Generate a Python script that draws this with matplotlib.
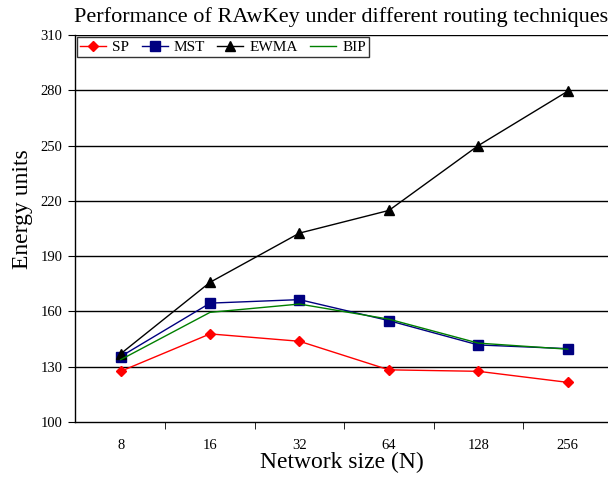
import matplotlib
matplotlib.use("Agg")
import matplotlib.pyplot as plt
import numpy as np

plt.rcParams['font.family'] = ['Liberation Serif', 'DejaVu Serif']

categories = ["8", "16", "32", "64", "128", "256"]
sp = [127.5, 147.8, 143.8, 128.3, 127.5, 121.5]
mst = [135.5, 164.5, 166.4, 155.0, 141.8, 139.8]
ewma = [137.0, 175.8, 202.5, 214.8, 250.0, 279.5]
bip = [133.8, 159.5, 164.0, 155.8, 142.8, 139.5]
yticks = [100, 130, 160, 190, 220, 250, 280, 310]

fig = plt.figure(figsize=(6.08, 4.82), dpi=100)
ax = fig.add_axes([0.1234, 0.1245, 0.8766, 0.8029])
x = np.arange(len(categories))

ax.plot(x, sp, color='#ff0000', marker='D', markersize=5.5, lw=1, label='SP')
ax.plot(x, mst, color='#000080', marker='s', markersize=7, lw=1, label='MST')
ax.plot(x, ewma, color='black', marker='^', markersize=7, lw=1, label='EWMA')
ax.plot(x, bip, color='#008000', lw=1, label='BIP')

ax.set_yticks(yticks)
ax.set_yticklabels([str(v) for v in yticks], fontsize=10.5)
for v in yticks[1:]:
    ax.axhline(v, color='black', lw=1, zorder=0)

ax.set_xticks(x)
ax.set_xticklabels(categories, fontsize=10.5)
ax.tick_params(axis='x', which='major', length=0, pad=12)
ax.set_xticks(np.arange(0.5, 5.0, 1), minor=True)
ax.tick_params(axis='x', which='minor', length=5, direction='out')
ax.tick_params(axis='y', length=5, direction='out', pad=4)
ax.set_ylim(100, 310)
ax.set_xlim(-0.51, 5.45)

ax.spines['right'].set_visible(False)
ax.spines['top'].set_visible(False)
for s in ['left', 'bottom']:
    ax.spines[s].set_linewidth(1)

ax.set_xlabel('Network size (N)', fontsize=17, labelpad=0)
ax.set_ylabel('Energy units', fontsize=17)
ax.yaxis.set_label_coords(-0.079, 0.55)
ax.set_title('Performance of RAwKey under different routing techniques', fontsize=16, pad=9)

leg = ax.legend(loc='upper left', ncol=4, fontsize=11, frameon=True, fancybox=False,
                edgecolor='black', borderaxespad=0.15, handlelength=1.7,
                columnspacing=0.8, handletextpad=0.4, borderpad=0.2)
leg.get_frame().set_linewidth(1)

fig.savefig('out.png', dpi=100)
